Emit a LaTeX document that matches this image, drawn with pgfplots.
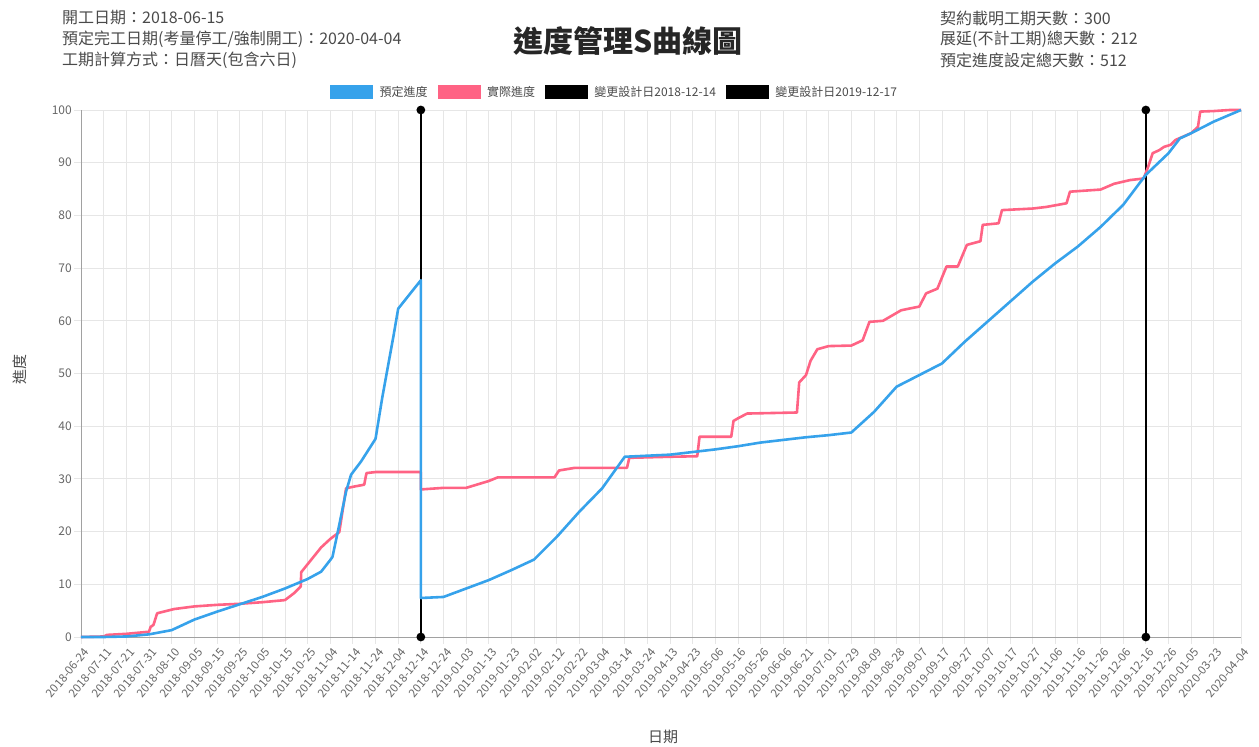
\documentclass[border=0pt]{standalone}
\usepackage{fontspec}
\setmainfont{Noto Sans CJK TC}
\usepackage{pgfplots}
\pgfplotsset{compat=1.18}
\definecolor{blueC}{HTML}{36A2EB}
\definecolor{redC}{HTML}{FF6384}
\definecolor{gridC}{HTML}{E6E6E6}
\definecolor{tickC}{HTML}{666666}
\definecolor{headC}{HTML}{4A4A4A}
\begin{document}
\begin{tikzpicture}
\begin{axis}[
  scale only axis, width=1160pt, height=527pt,
  xmin=0, xmax=51.2, ymin=0, ymax=100,
  clip=false,
  axis x line*=bottom, axis y line*=left,
  axis line style={draw=gridC!70!black, line width=0.8pt},
  grid=major, major grid style={draw=gridC, line width=0.8pt},
  xtick={0,1,2,3,4,5,6,7,8,9,10,11,12,13,14,15,16,17,18,19,20,21,22,23,24,25,26,27,28,29,30,31,32,33,34,35,36,37,38,39,40,41,42,43,44,45,46,47,48,49,50,51.2},
  xticklabels={2018-06-24,2018-07-11,2018-07-21,2018-07-31,2018-08-10,2018-09-05,2018-09-15,2018-09-25,2018-10-05,2018-10-15,2018-10-25,2018-11-04,2018-11-14,2018-11-24,2018-12-04,2018-12-14,2018-12-24,2019-01-03,2019-01-13,2019-01-23,2019-02-02,2019-02-12,2019-02-22,2019-03-04,2019-03-14,2019-03-24,2019-04-13,2019-04-23,2019-05-06,2019-05-16,2019-05-26,2019-06-06,2019-06-21,2019-07-01,2019-07-29,2019-08-09,2019-08-28,2019-09-07,2019-09-17,2019-09-27,2019-10-07,2019-10-17,2019-10-27,2019-11-06,2019-11-16,2019-11-26,2019-12-06,2019-12-16,2019-12-26,2020-01-05,2020-03-23,2020-04-04},
  ytick={0,10,...,100},
  tick align=outside, major tick length=7pt,
  tick style={draw=gridC, line width=0.8pt},
  /pgf/number format/assume math mode=true,
  xticklabel style={rotate=50, anchor=north east, inner sep=1pt, yshift=-3pt, font=\fontsize{11.5}{12}\selectfont, text=tickC},
  yticklabel style={font=\fontsize{12}{13}\selectfont, text=tickC, inner sep=2pt},
  legend columns=-1,
  legend style={draw=none, fill=none, at={(0.46,1)}, anchor=south, yshift=10pt, font=\fontsize{12}{13}\selectfont, text=headC, inner sep=0pt,
    /tikz/every odd column/.append style={column sep=5pt},
    /tikz/every even column/.append style={column sep=8pt}},
  legend cell align=left,
]
\addlegendimage{legend image code/.code={\fill[blueC] (0pt,-6.5pt) rectangle (42pt,6.5pt);}}
\addlegendentry{預定進度}
\addlegendimage{legend image code/.code={\fill[redC] (0pt,-6.5pt) rectangle (42pt,6.5pt);}}
\addlegendentry{實際進度}
\addlegendimage{legend image code/.code={\fill[black] (0pt,-6.5pt) rectangle (42pt,6.5pt);}}
\addlegendentry{變更設計日2018-12-14}
\addlegendimage{legend image code/.code={\fill[black] (0pt,-6.5pt) rectangle (42pt,6.5pt);}}
\addlegendentry{變更設計日2019-12-17}

\addplot[forget plot, black, line width=2.6pt, mark=*, mark size=3pt] coordinates {(15,0) (15,100)};
\addplot[forget plot, black, line width=2.6pt, mark=*, mark size=3pt] coordinates {(47,0) (47,100)};

\addplot[forget plot, redC, line width=2.6pt, line join=round] coordinates {
(0,0) (1,0.1) (1.15,0.4) (2,0.6) (3,1.0) (3.07,1.9) (3.2,2.3) (3.36,4.5) (4.1,5.3) (5,5.8) (6,6.1) (7,6.3) (8,6.6) (9,7.0) (9.4,8.3) (9.7,9.6) (9.72,12.3) (10,13.8) (10.6,17) (11,18.6) (11.4,19.9) (11.7,28.2) (12,28.5) (12.5,28.9) (12.6,31.1) (13,31.3) (15,31.3)
(15,28.0) (16,28.3) (17,28.3) (18,29.6) (18.4,30.3) (20.9,30.3) (21.1,31.6) (21.8,32.1) (24.1,32.1) (24.2,34.0) (26,34.2) (27.2,34.3) (27.3,38.0) (28.7,38.0) (28.8,41.0) (29.0,41.5) (29.4,42.4) (31.6,42.6) (31.7,48.3) (32.0,49.7) (32.2,52.4) (32.5,54.6) (33,55.2) (34,55.3) (34.5,56.3) (34.8,59.8) (35.4,60) (36.2,62) (37,62.7) (37.3,65.2) (37.8,66.1) (38.2,70.3) (38.7,70.3) (39.1,74.4) (39.7,75.1) (39.8,78.2) (40.5,78.5) (40.65,81) (42,81.3) (42.6,81.6) (43.5,82.3) (43.65,84.5) (45,84.9) (45.6,86) (46.3,86.7) (46.9,87) (47.1,89.2) (47.3,91.8) (47.6,92.4) (47.8,93) (48.1,93.4) (48.3,94.3) (49,95.6) (49.3,96.8) (49.4,99.7) (50,99.8) (50.7,100) (51.2,100)
};

\addplot[forget plot, blueC, line width=2.6pt, line join=round] coordinates {
(0,0) (1,0) (2,0.1) (3,0.5) (4,1.3) (5,3.3) (6,4.8) (7,6.2) (8,7.6) (9,9.2) (10,11.0) (10.6,12.4) (11,14.6) (11.1,15.2) (11.4,21.3) (11.7,27.6) (11.92,30.8) (12.36,33.3) (13,37.6) (13.3,45.5) (13.8,57.3) (14,62.3) (15,67.7)
(15,7.4) (16,7.6) (17,9.2) (18,10.8) (19,12.7) (20,14.7) (21,19.0) (22,23.8) (23,28.2) (24,34.2) (25,34.4) (26,34.6) (27,35.1) (28,35.6) (29,36.2) (30,36.9) (31,37.4) (32,37.9) (33,38.3) (34,38.8) (35,42.7) (36,47.5) (37,49.7) (38,51.9) (39,56) (40,59.8) (41,63.6) (42,67.4) (43,70.9) (44,74.1) (45,77.8) (46,82) (47,87.7) (48,91.8) (48.5,94.6) (49,95.6) (50,97.8) (51.2,100)
};
\end{axis}
% header texts
\node[anchor=west, text=headC, font=\fontsize{16}{18}\selectfont, inner sep=0pt] at (-19pt,619pt) {開工日期：2018-06-15};
\node[anchor=west, text=headC, font=\fontsize{16}{18}\selectfont, inner sep=0pt] at (-19pt,598pt) {預定完工日期(考量停工/強制開工)：2020-04-04};
\node[anchor=west, text=headC, font=\fontsize{16}{18}\selectfont, inner sep=0pt] at (-19pt,577pt) {工期計算方式：日曆天(包含六日)};
\node[anchor=west, text=headC, font=\fontsize{16}{18}\selectfont, inner sep=0pt] at (859pt,619pt) {契約載明工期天數：300};
\node[anchor=west, text=headC, font=\fontsize{16}{18}\selectfont, inner sep=0pt] at (859pt,598pt) {展延(不計工期)總天數：212};
\node[anchor=west, text=headC, font=\fontsize{16}{18}\selectfont, inner sep=0pt] at (859pt,577pt) {預定進度設定總天數：512};
\node[text=black!85, font=\fontsize{30}{32}\bfseries\selectfont, inner sep=0pt] at (547pt,596pt) {進度管理S曲線圖};
\node[text=headC, font=\fontsize{15}{16}\selectfont, inner sep=0pt] at (582pt,-100pt) {日期};
\node[text=headC, font=\fontsize{15}{16}\selectfont, inner sep=0pt, rotate=90] at (-61pt,267pt) {進度};
\pgfresetboundingbox
\path (-81pt,-110pt) rectangle (1178pt,637pt);
\end{tikzpicture}
\end{document}
